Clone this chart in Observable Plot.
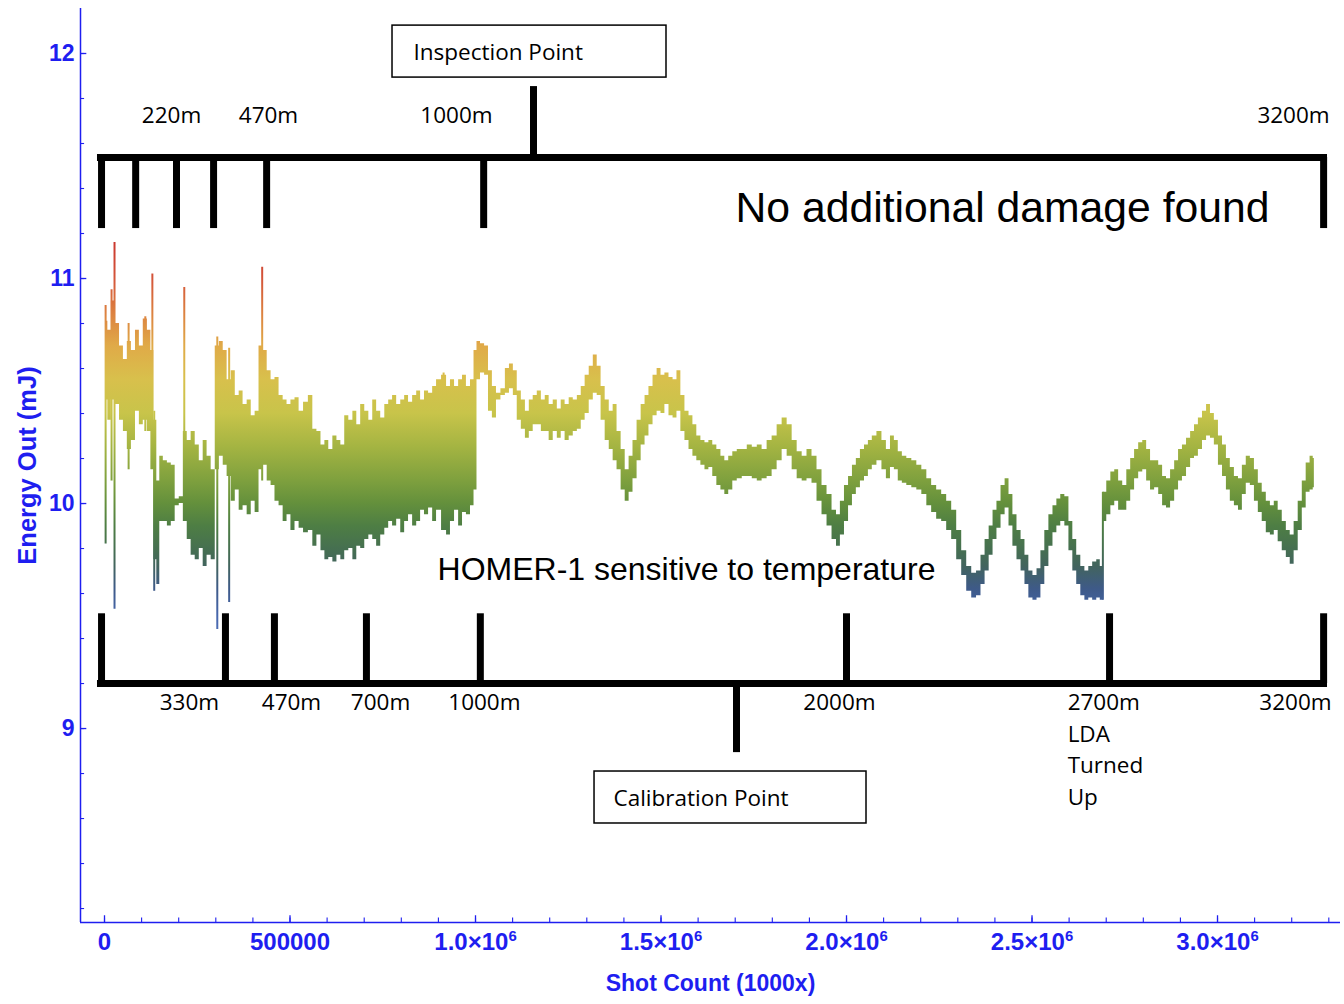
<!DOCTYPE html>
<html>
<head>
<meta charset="utf-8">
<script src="https://cdn.jsdelivr.net/npm/d3@7"></script>
<script src="https://cdn.jsdelivr.net/npm/@observablehq/plot@0.6"></script>
<style>
  html, body { margin: 0; padding: 0; background: #ffffff; }
  #chart svg { display: block; }
</style>
</head>
<body>
<div id="chart"></div>
<script>
// ---------- data ----------
const shots = [
  5000, 13000, 24000, 35000, 46000, 56000, 67000, 78000, 89000, 99000, 110000, 121000, 129000, 137000, 145000,
  153000, 164000, 175000, 185000, 196000, 207000, 218000, 228000, 239000, 250000, 261000, 271000, 282000, 293000,
  304000, 315000, 325000, 336000, 347000, 358000, 368000, 379000, 390000, 401000, 411000, 422000, 433000, 444000,
  454000, 465000, 476000, 487000, 497000, 508000, 519000, 530000, 543000, 556000, 567000, 578000, 589000, 599000,
  610000, 621000, 632000, 642000, 653000, 664000, 675000, 685000, 696000, 707000, 718000, 728000, 739000, 750000,
  761000, 771000, 782000, 793000, 804000, 814000, 825000, 836000, 847000, 857000, 868000, 879000, 890000, 900000,
  917000, 927000, 938000, 949000, 960000, 970000, 981000, 992000, 1000000, 1008000, 1019000, 1030000, 1040000,
  1051000, 1062000, 1075000, 1086000, 1097000, 1107000, 1118000, 1129000, 1140000, 1150000, 1161000, 1172000,
  1183000, 1193000, 1204000, 1215000, 1226000, 1236000, 1247000, 1258000, 1269000, 1280000, 1290000, 1301000,
  1312000, 1323000, 1333000, 1344000, 1355000, 1366000, 1376000, 1387000, 1398000, 1409000, 1419000, 1430000,
  1441000, 1452000, 1462000, 1473000, 1484000, 1495000, 1505000, 1516000, 1527000, 1538000, 1548000, 1559000,
  1570000, 1581000, 1591000, 1602000, 1613000, 1624000, 1634000, 1645000, 1656000, 1667000, 1677000, 1688000,
  1699000, 1712000, 1726000, 1739000, 1753000, 1766000, 1779000, 1793000, 1806000, 1820000, 1833000, 1847000,
  1860000, 1874000, 1887000, 1900000, 1914000, 1927000, 1941000, 1954000, 1968000, 1978000, 1989000, 2000000,
  2011000, 2021000, 2032000, 2043000, 2054000, 2064000, 2075000, 2089000, 2102000, 2113000, 2124000, 2134000,
  2145000, 2156000, 2169000, 2183000, 2196000, 2210000, 2223000, 2236000, 2250000, 2263000, 2277000, 2290000,
  2304000, 2317000, 2331000, 2344000, 2357000, 2368000, 2379000, 2390000, 2400000, 2411000, 2422000, 2433000,
  2443000, 2454000, 2465000, 2476000, 2486000, 2497000, 2508000, 2519000, 2529000, 2540000, 2551000, 2562000,
  2572000, 2583000, 2594000, 2605000, 2615000, 2626000, 2637000, 2648000, 2658000, 2669000, 2680000, 2688000,
  2696000, 2707000, 2718000, 2728000, 2739000, 2750000, 2761000, 2771000, 2782000, 2793000, 2804000, 2814000,
  2825000, 2836000, 2847000, 2857000, 2868000, 2879000, 2890000, 2900000, 2911000, 2922000, 2933000, 2943000,
  2954000, 2965000, 2976000, 2986000, 2997000, 3008000, 3019000, 3029000, 3040000, 3051000, 3062000, 3072000,
  3083000, 3094000, 3105000, 3115000, 3126000, 3137000, 3148000, 3158000, 3169000, 3180000, 3191000, 3201000,
  3212000, 3223000, 3234000, 3244000, 3255000, 3261000
];
const energyHigh = [
  10.81, 10.77, 10.90, 10.80, 10.70, 10.64, 10.72, 10.68, 10.77, 10.70, 10.82, 10.77, 10.68, 10.37, 10.10,
  10.21, 10.19, 10.18, 10.17, 10.02, 10.03, 10.32, 10.28, 10.32, 10.26, 10.19, 10.28, 10.21, 10.15,
  10.70, 10.72, 10.68, 10.55, 10.59, 10.48, 10.50, 10.44, 10.46, 10.39, 10.41, 10.70, 10.68, 10.59,
  10.55, 10.56, 10.48, 10.46, 10.44, 10.46, 10.47, 10.41, 10.45, 10.48, 10.33, 10.32, 10.26, 10.28,
  10.24, 10.30, 10.28, 10.26, 10.39, 10.37, 10.41, 10.35, 10.44, 10.41, 10.37, 10.46, 10.41, 10.38,
  10.44, 10.46, 10.48, 10.44, 10.46, 10.48, 10.45, 10.48, 10.50, 10.46, 10.50, 10.49, 10.52, 10.55,
  10.57, 10.52, 10.55, 10.52, 10.55, 10.57, 10.52, 10.55, 10.68, 10.72, 10.71, 10.70, 10.59,
  10.52, 10.49, 10.51, 10.60, 10.62, 10.59, 10.50, 10.46, 10.41, 10.46, 10.48, 10.50,
  10.46, 10.48, 10.44, 10.46, 10.42, 10.46, 10.44, 10.47, 10.46, 10.48, 10.52, 10.57,
  10.61, 10.66, 10.61, 10.52, 10.46, 10.41, 10.44, 10.32, 10.24, 10.15, 10.21, 10.28,
  10.37, 10.44, 10.48, 10.52, 10.57, 10.60, 10.57, 10.58, 10.56, 10.55, 10.59, 10.48,
  10.41, 10.39, 10.35, 10.30, 10.28, 10.27, 10.28, 10.26, 10.24, 10.21, 10.19, 10.21,
  10.23, 10.24, 10.24, 10.26, 10.25, 10.26, 10.24, 10.28, 10.30, 10.35, 10.38, 10.35,
  10.28, 10.23, 10.21, 10.24, 10.21, 10.15, 10.08, 10.04, 9.97, 9.95, 10.01, 10.08,
  10.12, 10.17, 10.20, 10.24, 10.26, 10.28, 10.30, 10.32, 10.28, 10.24, 10.30, 10.28,
  10.23, 10.21, 10.20, 10.19, 10.17, 10.15, 10.11, 10.08, 10.06, 10.04, 10.01, 9.97,
  9.88, 9.79, 9.72, 9.69, 9.70, 9.77, 9.84, 9.90, 9.97, 10.01, 10.08, 10.11,
  10.04, 9.95, 9.88, 9.84, 9.77, 9.70, 9.68, 9.71, 9.79, 9.88, 9.95, 9.99,
  10.02, 10.04, 10.03, 9.92, 9.84, 9.77, 9.72, 9.70, 9.72, 9.74, 9.75, 9.72,
  10.05, 10.10, 10.14, 10.15, 10.10, 10.08, 10.15, 10.20, 10.24, 10.27, 10.28, 10.24,
  10.19, 10.19, 10.17, 10.12, 10.11, 10.15, 10.19, 10.24, 10.26, 10.29, 10.32, 10.35,
  10.38, 10.41, 10.44, 10.40, 10.37, 10.30, 10.26, 10.20, 10.16, 10.12, 10.11, 10.17,
  10.21, 10.20, 10.15, 10.09, 10.05, 10.01, 9.99, 10.01, 9.97, 9.92, 9.88, 9.86,
  9.92, 10.01, 10.10, 10.18, 10.21, 10.20
];
const energyLow = [
  10.46, 10.37, 10.46, 10.44, 10.37, 10.32, 10.24, 10.28, 10.41, 10.35, 10.37, 10.32, 10.15, 9.75, 9.64,
  9.92, 9.92, 9.90, 9.92, 9.99, 10.00, 9.92, 9.84, 9.77, 9.75, 9.80, 9.72, 9.77, 9.75,
  10.15, 10.21, 10.17, 10.12, 10.01, 10.06, 9.97, 9.99, 9.95, 10.01, 9.96, 10.15, 10.17, 10.10,
  10.08, 10.01, 9.99, 9.92, 9.95, 9.88, 9.92, 9.89, 9.87, 9.88, 9.81, 9.86, 9.79, 9.75,
  9.76, 9.74, 9.77, 9.75, 9.79, 9.80, 9.75, 9.81, 9.80, 9.84, 9.86, 9.84, 9.81, 9.86,
  9.89, 9.92, 9.90, 9.93, 9.87, 9.92, 9.95, 9.90, 9.92, 9.97, 9.95, 9.98, 9.92, 9.97,
  9.88, 9.86, 9.92, 9.97, 9.90, 9.96, 9.95, 9.99, 10.06, 10.55, 10.58, 10.57, 10.41,
  10.38, 10.46, 10.48, 10.49, 10.51, 10.48, 10.37, 10.33, 10.29, 10.32, 10.35, 10.35,
  10.32, 10.32, 10.28, 10.32, 10.29, 10.32, 10.28, 10.30, 10.32, 10.33, 10.37, 10.40,
  10.46, 10.49, 10.48, 10.37, 10.28, 10.24, 10.19, 10.15, 10.06, 10.01, 10.05, 10.11,
  10.19, 10.26, 10.30, 10.35, 10.39, 10.41, 10.40, 10.44, 10.39, 10.38, 10.41, 10.32,
  10.28, 10.24, 10.21, 10.19, 10.17, 10.15, 10.16, 10.12, 10.08, 10.06, 10.04, 10.06,
  10.10, 10.11, 10.12, 10.12, 10.11, 10.10, 10.11, 10.12, 10.15, 10.19, 10.24, 10.21,
  10.15, 10.11, 10.10, 10.11, 10.09, 10.01, 9.95, 9.90, 9.84, 9.81, 9.86, 9.92,
  9.99, 10.04, 10.07, 10.10, 10.12, 10.15, 10.17, 10.19, 10.15, 10.11, 10.16, 10.15,
  10.10, 10.09, 10.08, 10.07, 10.06, 10.04, 9.99, 9.96, 9.93, 9.92, 9.88, 9.84,
  9.75, 9.68, 9.61, 9.58, 9.59, 9.64, 9.70, 9.77, 9.84, 9.89, 9.95, 9.98,
  9.90, 9.81, 9.75, 9.70, 9.64, 9.58, 9.57, 9.58, 9.64, 9.72, 9.81, 9.87,
  9.90, 9.92, 9.90, 9.79, 9.70, 9.64, 9.59, 9.57, 9.58, 9.57, 9.58, 9.57,
  9.92, 9.95, 9.99, 10.01, 9.97, 9.97, 10.01, 10.06, 10.11, 10.14, 10.15, 10.10,
  10.06, 10.07, 10.04, 9.99, 9.98, 10.01, 10.06, 10.10, 10.12, 10.16, 10.20, 10.21,
  10.24, 10.28, 10.30, 10.29, 10.26, 10.17, 10.12, 10.06, 10.01, 9.99, 9.97, 10.04,
  10.09, 10.08, 10.01, 9.96, 9.92, 9.87, 9.86, 9.88, 9.83, 9.79, 9.76, 9.73,
  9.79, 9.88, 9.98, 10.05, 10.06, 10.07
];
// isolated spikes of the trace
const spikeShots = [3000, 19000, 27000, 65000, 110000, 129000, 134000, 215000, 304000, 336000, 425000, 914000, 2691000];
const spikeHigh  = [10.88, 10.95, 11.16, 10.80, 10.83, 11.02, 10.41, 10.96, 10.74, 10.69, 11.05, 10.58, 10.05];
const spikeLow   = [9.82, 10.10, 9.53, 10.15, 10.32, 10.41, 9.61, 10.01, 9.44, 9.56, 10.10, 9.88, 9.57];

// axes
const xTicks = [0, 500000, 1000000, 1500000, 2000000, 2500000, 3000000];
const xTickLabels = ["0", "500000", "1.0\u00d710^6", "1.5\u00d710^6", "2.0\u00d710^6", "2.5\u00d710^6", "3.0\u00d710^6"];
const yTicks = [9, 10, 11, 12];
const xMinorTicks = d3.range(0, 34).map(i => i * 100000);
const yMinorTicks = d3.range(41, 61).map(i => i / 5);
const xTitle = "Shot Count (1000x)";
const yTitle = "Energy Out (mJ)";

// annotations
const topMilestones = [-8000, 84000, 194000, 294000, 437000, 1022000, 3286000];
const topLabels = ["220m", "470m", "1000m", "3200m"];
const topLabelShots = [180600, 442000, 948800, 3204900];
const bottomMilestones = [-8000, 326000, 458000, 706000, 1013000, 2000000, 2709000, 3286000];
const bottomLabels = ["330m", "470m", "700m", "1000m", "2000m", "3200m"];
const bottomLabelShots = [229000, 504000, 744000, 1024000, 1981000, 3210000];
const ldaNote = "2700m\nLDA\nTurned\nUp";
const ldaShot = 2596000;
const inspectionShot = 1156300;
const calibrationShot = 1703500;
const bracketStart = -18900, bracketEnd = 3296500;
const topBracketY = 11.538, topTickEndY = 11.222, inspectionLinkY = 11.853;
const bottomBracketY = 9.20, bottomTickEndY = 9.51, calibrationLinkY = 8.893;
const inspectionBox = {x1: 776300, x2: 1514800, y1: 11.893, y2: 12.124, textX: 832900, textY: 12.004, text: "Inspection Point"};
const calibrationBox = {x1: 1320800, x2: 2053900, y1: 8.578, y2: 8.809, textX: 1372000, textY: 8.689, text: "Calibration Point"};
const noDamage = {x: 2420500, y: 11.311, text: "No additional damage found"};
const homer = {x: 1568700, y: 9.707, text: "HOMER-1 sensitive to temperature"};

// colour ramp (by energy value)
const rampValues = [11.20, 11.00, 10.85, 10.70, 10.55, 10.40, 10.25, 10.10, 10.00, 9.90, 9.80, 9.72, 9.62, 9.50, 9.40];
const rampColors = ["#c8302c", "#d4553a", "#dc8040", "#e0aa48", "#d8c04c", "#c8c44a", "#a4b442", "#7ea03e",
                    "#64903c", "#4e7e44", "#467050", "#42645e", "#3e5a88", "#4666ac", "#5070b8"];

// ---------- build ----------
const band = shots.map((x, i) => ({x, hi: energyHigh[i], lo: energyLow[i]}));
const spikes = spikeShots.map((x, i) => ({x, hi: spikeHigh[i], lo: spikeLow[i]}));

const xDomain = [-64700, 3331500];
const yDomain = [8.138, 12.2];
const BLUE = "#1e1ef0";
const axisFont = "'Liberation Sans', Arial, sans-serif";
const noteFont = "'Open Sans', Lato, sans-serif";
const bigFont = "'Liberation Sans', Arial, sans-serif";

const chart = Plot.plot({
  width: 1344,
  height: 1004,
  marginTop: 8,
  marginRight: 4,
  marginBottom: 82,
  marginLeft: 80,
  x: {domain: xDomain, axis: null},
  y: {domain: yDomain, axis: null},
  style: {background: "#ffffff", overflow: "visible"},
  marks: [
    // axis lines
    Plot.ruleX([xDomain[0]], {stroke: BLUE, strokeWidth: 1.5}),
    Plot.ruleY([yDomain[0]], {stroke: BLUE, strokeWidth: 1.5}),
    // ticks (pointing inward)
    Plot.ruleY(yTicks, {x1: xDomain[0], x2: xDomain[0] + 17000, stroke: BLUE, strokeWidth: 1.3}),
    Plot.ruleY(yMinorTicks, {x1: xDomain[0], x2: xDomain[0] + 11000, stroke: BLUE, strokeWidth: 1.1}),
    Plot.ruleX(xTicks, {y1: yDomain[0], y2: yDomain[0] + 0.03, stroke: BLUE, strokeWidth: 1.3}),
    Plot.ruleX(xMinorTicks, {y1: yDomain[0], y2: yDomain[0] + 0.02, stroke: BLUE, strokeWidth: 1.1}),
    // tick labels
    Plot.axisY(yTicks, {anchor: "left", tickSize: 0, tickPadding: 6, fill: BLUE, fontSize: 23, fontWeight: "bold", fontFamily: axisFont,
                        tickFormat: d => `${d}`}),
    Plot.axisX(xTicks, {anchor: "bottom", tickSize: 0, tickPadding: 10, fill: BLUE, fontSize: 24, fontWeight: "bold", fontFamily: axisFont,
                        tickFormat: d => xTickLabels[xTicks.indexOf(d)]}),
    Plot.text([xTitle], {frameAnchor: "bottom", dy: 68, fill: BLUE, fontSize: 23, fontWeight: "bold", fontFamily: axisFont}),
    Plot.text([yTitle], {frameAnchor: "left", dx: -53, rotate: -90, textAnchor: "middle", fill: BLUE, fontSize: 25.5, fontWeight: "bold", fontFamily: axisFont}),

    // data: noisy energy band and spikes
    Plot.areaY(band, {x: "x", y1: "lo", y2: "hi", curve: "step", fill: "url(#energyGrad)"}),
    Plot.ruleX(spikes, {x: "x", y1: "lo", y2: "hi", stroke: "url(#energyGrad)", strokeWidth: 2}),

    // annotations: top bracket
    Plot.ruleY([topBracketY], {x1: bracketStart, x2: bracketEnd, stroke: "black", strokeWidth: 7}),
    Plot.ruleX(topMilestones, {y1: topBracketY, y2: topTickEndY, stroke: "black", strokeWidth: 7}),
    Plot.ruleX([inspectionShot], {y1: topBracketY, y2: inspectionLinkY, stroke: "black", strokeWidth: 7}),
    Plot.text(topLabels, {x: (d, i) => topLabelShots[i], y: 11.724, text: d => d, fontSize: 22.5, fontFamily: noteFont, fill: "black"}),
    Plot.rect([inspectionBox], {x1: "x1", x2: "x2", y1: "y1", y2: "y2", fill: "white", stroke: "black", strokeWidth: 1.5}),
    Plot.text([inspectionBox], {x: "textX", y: "textY", text: "text", textAnchor: "start", fontSize: 22.5, fontFamily: noteFont, fill: "black"}),
    Plot.text([noDamage], {x: "x", y: "y", text: "text", fontSize: 42.7, fontFamily: bigFont, fill: "black"}),

    // annotations: bottom bracket
    Plot.ruleY([bottomBracketY], {x1: bracketStart, x2: bracketEnd, stroke: "black", strokeWidth: 7}),
    Plot.ruleX(bottomMilestones, {y1: bottomBracketY, y2: bottomTickEndY, stroke: "black", strokeWidth: 7}),
    Plot.ruleX([calibrationShot], {y1: bottomBracketY, y2: calibrationLinkY, stroke: "black", strokeWidth: 7}),
    Plot.text(bottomLabels, {x: (d, i) => bottomLabelShots[i], y: 9.116, text: d => d, fontSize: 22.5, fontFamily: noteFont, fill: "black"}),
    Plot.text([ldaNote], {x: ldaShot, y: 9.185, text: d => d, textAnchor: "start", lineAnchor: "top", lineHeight: 1.42, fontSize: 22.5, fontFamily: noteFont, fill: "black"}),
    Plot.rect([calibrationBox], {x1: "x1", x2: "x2", y1: "y1", y2: "y2", fill: "white", stroke: "black", strokeWidth: 1.5}),
    Plot.text([calibrationBox], {x: "textX", y: "textY", text: "text", textAnchor: "start", fontSize: 22.5, fontFamily: noteFont, fill: "black"}),
    Plot.text([homer], {x: "x", y: "y", text: "text", fontSize: 32, fontFamily: bigFont, fill: "black"})
  ]
});

// vertical colour gradient mapped through the y scale
const yScale = chart.scale("y");
const gTop = yScale.apply(rampValues[0]);
const gBottom = yScale.apply(rampValues[rampValues.length - 1]);
const grad = d3.select(chart).insert("defs", ":first-child")
  .append("linearGradient")
  .attr("id", "energyGrad")
  .attr("gradientUnits", "userSpaceOnUse")
  .attr("x1", 0).attr("x2", 0)
  .attr("y1", gTop).attr("y2", gBottom);
rampValues.forEach((v, i) => {
  grad.append("stop")
    .attr("offset", (yScale.apply(v) - gTop) / (gBottom - gTop))
    .attr("stop-color", rampColors[i]);
});

// render "10^6" labels with a real superscript
d3.select(chart).selectAll("text").each(function () {
  const t = this.textContent;
  if (this.childElementCount === 0 && t.includes("^")) {
    const [base, exp] = t.split("^");
    this.textContent = base;
    d3.select(this).append("tspan").attr("dy", "-0.55em").attr("font-size", "0.62em").text(exp);
  }
});

document.getElementById("chart").appendChild(chart);
</script>
</body>
</html>
